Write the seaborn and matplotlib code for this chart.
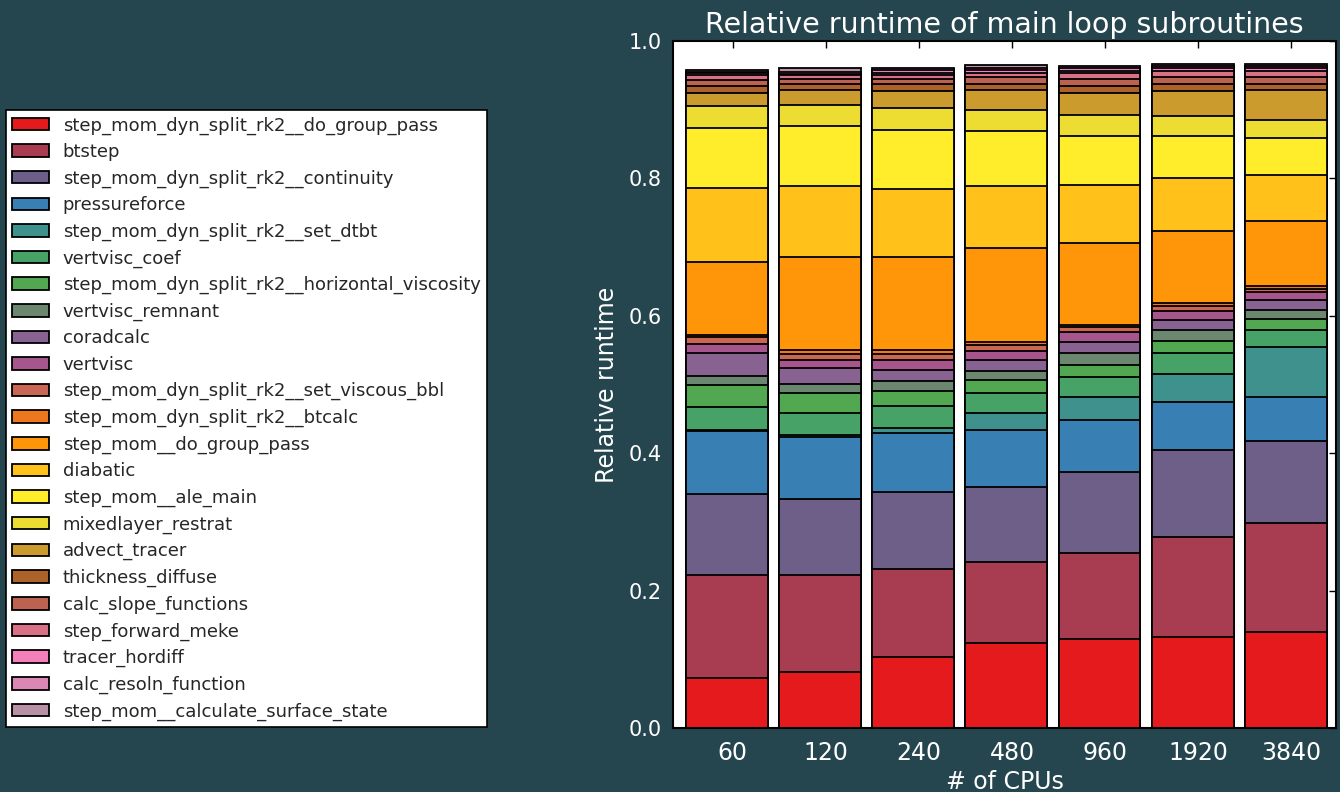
import numpy as np
import pandas as pd
import matplotlib
matplotlib.use("Agg")
import matplotlib.pyplot as plt
import seaborn as sns
from matplotlib.colors import LinearSegmentedColormap
from matplotlib.patches import Patch

# ---------------- data ----------------
routines = [
    "step_mom_dyn_split_rk2__do_group_pass",
    "btstep",
    "step_mom_dyn_split_rk2__continuity",
    "pressureforce",
    "step_mom_dyn_split_rk2__set_dtbt",
    "vertvisc_coef",
    "step_mom_dyn_split_rk2__horizontal_viscosity",
    "vertvisc_remnant",
    "coradcalc",
    "vertvisc",
    "step_mom_dyn_split_rk2__set_viscous_bbl",
    "step_mom_dyn_split_rk2__btcalc",
    "step_mom__do_group_pass",
    "diabatic",
    "step_mom__ale_main",
    "mixedlayer_restrat",
    "advect_tracer",
    "thickness_diffuse",
    "calc_slope_functions",
    "step_forward_meke",
    "tracer_hordiff",
    "calc_resoln_function",
    "step_mom__calculate_surface_state",
]
cpus = ["60", "120", "240", "480", "960", "1920", "3840"]

# relative runtime share of each routine (same order as `routines`)
share_60 = [0.073, 0.150, 0.117, 0.092, 0.002, 0.033, 0.033, 0.012, 0.034, 0.013, 0.010, 0.003,
            0.106, 0.108, 0.088, 0.031, 0.020, 0.009, 0.009, 0.007, 0.003, 0.002, 0.003]
share_120 = [0.082, 0.140, 0.111, 0.090, 0.004, 0.031, 0.029, 0.013, 0.024, 0.012, 0.009, 0.005,
             0.135, 0.104, 0.088, 0.030, 0.022, 0.008, 0.008, 0.005, 0.002, 0.003, 0.005]
share_240 = [0.103, 0.129, 0.112, 0.086, 0.007, 0.031, 0.023, 0.014, 0.016, 0.015, 0.009, 0.005,
             0.135, 0.100, 0.086, 0.031, 0.025, 0.010, 0.007, 0.007, 0.003, 0.004, 0.003]
share_480 = [0.124, 0.118, 0.109, 0.083, 0.025, 0.028, 0.020, 0.013, 0.016, 0.013, 0.009, 0.004,
             0.136, 0.091, 0.080, 0.030, 0.030, 0.008, 0.010, 0.007, 0.004, 0.003, 0.004]
share_960 = [0.129, 0.126, 0.118, 0.075, 0.034, 0.029, 0.018, 0.017, 0.016, 0.014, 0.007, 0.004,
             0.119, 0.085, 0.070, 0.031, 0.032, 0.010, 0.011, 0.009, 0.003, 0.003, 0.004]
share_1920 = [0.132, 0.146, 0.126, 0.071, 0.040, 0.031, 0.018, 0.015, 0.015, 0.013, 0.007, 0.004,
              0.106, 0.076, 0.061, 0.030, 0.036, 0.010, 0.011, 0.009, 0.003, 0.003, 0.003]
share_3840 = [0.140, 0.158, 0.120, 0.064, 0.073, 0.025, 0.016, 0.012, 0.015, 0.011, 0.005, 0.004,
              0.095, 0.067, 0.054, 0.026, 0.043, 0.009, 0.010, 0.010, 0.004, 0.003, 0.003]

# ---------------- style ----------------
bg = "#26464f"
sns.set_theme(style="white")
plt.rcParams["font.family"] = ["DejaVu Sans"]

shares = np.array([share_60, share_120, share_240, share_480, share_960, share_1920, share_3840])
cum = np.cumsum(shares, axis=1)

set1 = ["#e41a1c", "#377eb8", "#4daf4a", "#984ea3", "#ff7f00",
        "#ffff33", "#a65628", "#f781bf", "#999999"]
cmap = LinearSegmentedColormap.from_list("set1_interp", set1)
n = len(routines)
colors = [cmap(i / n) for i in range(n)]

fig = plt.figure(figsize=(13.4, 7.92), dpi=100, facecolor=bg)
ax = fig.add_axes([673 / 1340, 64 / 792, 663 / 1340, 687 / 792])
ax.set_facecolor("white")

for j in reversed(range(n)):
    df = pd.DataFrame({"cpus": cpus, "value": cum[:, j]})
    sns.barplot(data=df, x="cpus", y="value", order=cpus, color=colors[j],
                saturation=1, width=0.88, edgecolor="black", linewidth=1.3,
                errorbar=None, ax=ax)

ax.set_xlim(-0.58, 6.54)
ax.set_ylim(0, 1.0)
ax.set_xticks(np.arange(len(cpus)) + 0.06)
ax.set_xticklabels(cpus)
ax.set_yticks(np.arange(0, 1.01, 0.2))
ax.set_yticklabels([f"{v:.1f}" for v in np.arange(0, 1.01, 0.2)])
ax.tick_params(axis="both", direction="in", top=True, right=True, color="black",
               labelcolor="white", length=5, width=1)
ax.tick_params(axis="x", labelsize=17, pad=9)
ax.tick_params(axis="y", labelsize=15, pad=8)
for s in ax.spines.values():
    s.set_color("black")
    s.set_linewidth(1.5)

ax.set_title("Relative runtime of main loop subroutines", color="white", fontsize=20.5, pad=6)
ax.set_xlabel("# of CPUs", color="white", fontsize=17, labelpad=4)
ax.set_ylabel("Relative runtime", color="white", fontsize=17, labelpad=7)

handles = [Patch(facecolor=colors[i], edgecolor="black", linewidth=1.3, label=routines[i])
           for i in range(n)]
leg = fig.legend(handles=handles, loc="upper left", bbox_to_anchor=(6 / 1340, 1 - 110 / 792),
                 fontsize=13, frameon=True, fancybox=False, edgecolor="black",
                 facecolor="white", framealpha=1, borderaxespad=0, handlelength=2.05,
                 handletextpad=0.75, labelspacing=0.467, borderpad=0.35)
leg.get_frame().set_linewidth(1.2)

fig.savefig("out.png", dpi=100, facecolor=bg)
